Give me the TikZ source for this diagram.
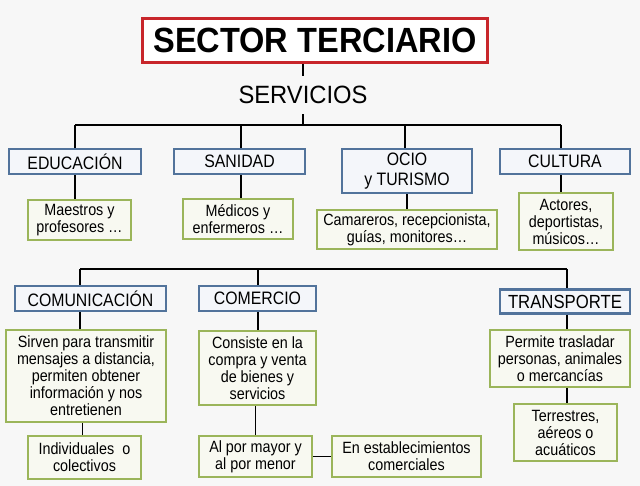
\documentclass[tikz,border=0pt]{standalone}
\usepackage{fontspec}
\setmainfont{Liberation Sans}[FakeStretch=0.88]
\newfontfamily\titlefont{Liberation Sans}[FakeStretch=0.93]
\newfontfamily\servfont{Liberation Sans}[FakeStretch=0.95]
\definecolor{bgc}{HTML}{F7F7F7}
\definecolor{redc}{HTML}{C8262B}
\definecolor{catb}{HTML}{52739B}
\definecolor{catf}{HTML}{F4F6FA}
\definecolor{detb}{HTML}{9BB55A}
\definecolor{detf}{HTML}{F8F9F1}
\begin{document}
\begin{tikzpicture}[x=1pt,y=-1pt,
  bx/.style={line width=2.4pt, inner sep=0pt, align=center, text=black},
  cat/.style={bx, draw=catb, fill=catf, font=\fontsize{18}{20}\selectfont},
  det/.style={bx, draw=detb, fill=detf, font=\fontsize{16.3}{17}\selectfont},
  ln/.style={line width=1.8pt, black}]
\fill[bgc] (0,0) rectangle (640,486);
\useasboundingbox (0,0) rectangle (640,486);
% title
\node[draw=redc, line width=3pt, fill=white, inner sep=0pt, minimum width=345pt, minimum height=44pt,
  font=\titlefont\bfseries\fontsize{35}{40}\selectfont] (title) at (315,40.5) {SECTOR TERCIARIO};
\node[inner sep=0pt, minimum height=38pt, font=\servfont\fontsize{25}{28}\selectfont] (serv) at (303,95) {SERVICIOS};
% row 1 categories
\node[cat, minimum width=132pt, minimum height=25pt] (edu) at (75,161.5) {EDUCACIÓN};
\node[cat, minimum width=131pt, minimum height=25pt] (san) at (239.5,161.5) {SANIDAD};
\node[cat, minimum width=130pt, minimum height=44pt] (ocio) at (407,171) {OCIO\\y TURISMO};
\node[cat, minimum width=130pt, minimum height=25pt] (cul) at (565,161.5) {CULTURA};
% row 1 details
\node[det, minimum width=103pt, minimum height=40pt] (mae) at (79.5,220) {Maestros y\\profesores …};
\node[det, minimum width=110pt, minimum height=40pt] (med) at (238,219) {Médicos y\\enfermeros …};
\node[det, minimum width=180pt, minimum height=39pt] (cam) at (407,229.5) {Camareros, recepcionista,\\guías, monitores…};
\node[det, minimum width=94pt, minimum height=57pt] (act) at (566,221.5) {Actores,\\deportistas,\\músicos…};
% row 2 categories
\node[cat, minimum width=151pt, minimum height=25pt] (com) at (90.5,298.5) {COMUNICACIÓN};
\node[cat, minimum width=117pt, minimum height=25pt] (comr) at (257.5,298.5) {COMERCIO};
\node[cat, minimum width=130pt, minimum height=24pt, font=\fontsize{19}{21}\selectfont] (tra) at (565,301.5) {TRANSPORTE};
% row 2 details
\node[det, minimum width=160pt, minimum height=92pt] (sir) at (86,376) {Sirven para transmitir\\mensajes a distancia,\\permiten obtener\\información y nos\\entretienen};
\node[det, minimum width=117pt, minimum height=74pt] (cons) at (257.5,368) {Consiste en la\\compra y venta\\de bienes y\\servicios};
\node[det, minimum width=140pt, minimum height=57pt] (perm) at (560,358.5) {Permite trasladar\\personas, animales\\o mercancías};
\node[det, minimum width=103pt, minimum height=57pt] (terr) at (565.5,432.5) {Terrestres,\\aéreos o\\acuáticos};
\node[det, minimum width=113pt, minimum height=43pt] (ind) at (84.5,457.5) {Individuales\hspace{0.5em}o\\colectivos};
\node[det, minimum width=113pt, minimum height=41pt] (alp) at (255.5,456.5) {Al por mayor y\\al por menor};
\node[det, minimum width=149pt, minimum height=41pt] (enest) at (406.5,456.5) {En establecimientos\\comerciales};
% junctions
\coordinate (b1l) at (75,125);
\coordinate (b1r) at (561,125);
\coordinate (j1a) at (75,125);
\coordinate (j1b) at (241,125);
\coordinate (j1c) at (405,125);
\coordinate (j1d) at (561,125);
\coordinate (b2l) at (80,269);
\coordinate (b2r) at (567,269);
\coordinate (j2b) at (258,269);
% connectors top
\draw[ln] (title.south -| serv.north) -- (serv.north);
\draw[ln] (serv.south) -- (serv.south |- b1l);
\draw[ln] (b1l) -- (b1r);
\draw[ln] (j1a) -- (j1a |- edu.north);
\draw[ln] (j1b) -- (j1b |- san.north);
\draw[ln] (j1c) -- (j1c |- ocio.north);
\draw[ln] (j1d) -- (j1d |- cul.north);
\draw[ln] (edu.south -| j1a) -- (mae.north -| j1a);
\draw[ln] (san.south -| j1b) -- (med.north -| j1b);
\draw[ln] (ocio.south -| cam.north) -- (cam.north);
\draw[ln] (cul.south -| j1d) -- (act.north -| j1d);
% connectors bottom
\draw[ln] (b2l) -- (b2r);
\draw[ln] (b2l) -- (b2l |- com.north);
\draw[ln] (j2b) -- (j2b |- comr.north);
\draw[ln] (b2r) -- (b2r |- tra.north);
\draw[ln] (com.south -| b2l) -- (sir.north -| b2l);
\draw[ln] (sir.south -| ind.north) ++(-2,0) coordinate (k1) (k1) -- (k1 |- ind.north);
\draw[ln] (comr.south -| j2b) -- (cons.north -| j2b);
\draw[ln] (cons.south -| alp.north) -- (alp.north);
\draw[ln] (alp.east) -- (enest.west);
\draw[ln] (tra.south -| b2r) -- (perm.north -| b2r);
\draw[ln] (perm.south -| b2r) -- (terr.north -| b2r);
\end{tikzpicture}
\end{document}
